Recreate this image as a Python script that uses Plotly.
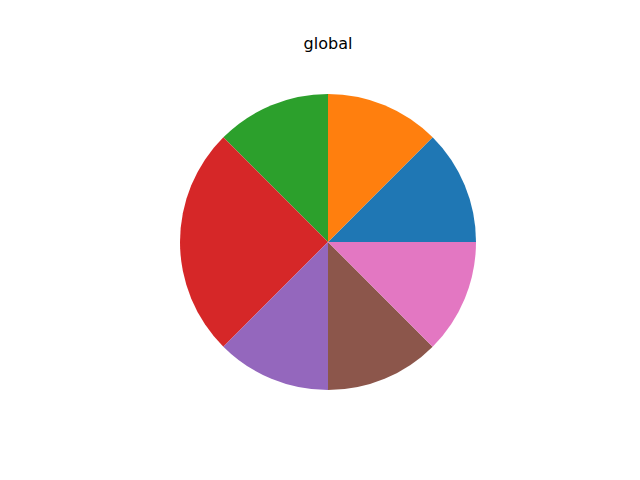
import plotly.graph_objects as go

labels = ["A", "B", "C", "D", "E", "F", "G"]
values = [1, 1, 1, 2, 1, 1, 1]
colors = ["#1f77b4", "#ff7f0e", "#2ca02c", "#d62728", "#9467bd", "#8c564b", "#e377c2"]

fig = go.Figure(go.Pie(
    labels=labels,
    values=values,
    sort=False,
    direction="counterclockwise",
    rotation=45,
    textinfo="none",
    hoverinfo="label+value",
    marker=dict(colors=colors, line=dict(width=0)),
    domain=dict(x=[180/640, 476/640], y=[(480-390)/480, (480-94)/480]),
    showlegend=False,
))

fig.update_layout(
    width=640, height=480,
    margin=dict(l=0, r=0, t=0, b=0),
    paper_bgcolor="white",
    plot_bgcolor="white",
    title=dict(text="global", x=328/640, xanchor="center", y=1-43/480, yanchor="middle",
               font=dict(family="DejaVu Sans", size=16, color="black")),
)

fig.write_html("out.html", config={"displayModeBar": False},
               post_script="document.body.style.margin='0';")
